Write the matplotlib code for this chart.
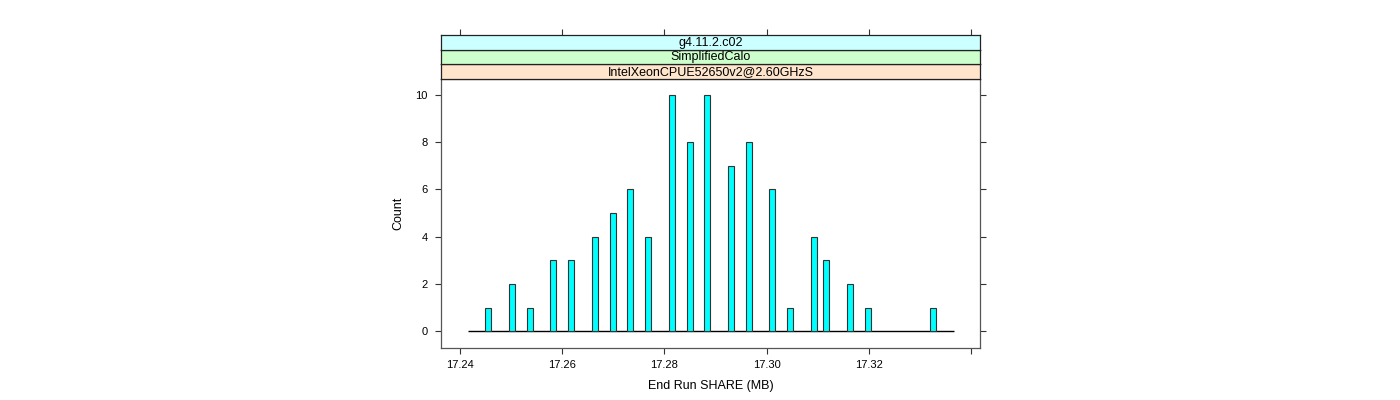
import matplotlib
matplotlib.use('Agg')
import matplotlib.pyplot as plt

plt.rcParams['font.family'] = ['Liberation Sans', 'DejaVu Sans']

# histogram bars (bin centres in MB, counts)
share_mb = [17.24542, 17.25013, 17.25360, 17.25817, 17.26175, 17.26636, 17.26983,
            17.27329, 17.27682, 17.28147, 17.28495, 17.28838, 17.29311, 17.29658,
            17.30116, 17.30469, 17.30934, 17.31164, 17.31635, 17.31980, 17.33256]
counts = [1, 2, 1, 3, 3, 4, 5, 6, 4, 10, 8, 10, 7, 8, 6, 1, 4, 3, 2, 1, 1]
bin_width = 0.00116
hist_range = [17.2414, 17.3367]

strip_labels = ['IntelXeonCPUE52650v2@2.60GHzS', 'SimplifiedCalo', 'g4.11.2.c02']
strip_colors = ['#ffe5cc', '#ccffcc', '#ccffff']

xticks = [17.24, 17.26, 17.28, 17.30, 17.32, 17.34]
xticklabels = ['17.24', '17.26', '17.28', '17.30', '17.32', '']
yticks = [0, 2, 4, 6, 8, 10]

W, H = 1400, 400
fig = plt.figure(figsize=(14, 4), dpi=100)

left, right, top, bottom = 440.5, 980.3, 78.5, 347.5
ax = fig.add_axes([left / W, 1 - bottom / H, (right - left) / W, (bottom - top) / H])

ax.hlines(0, hist_range[0], hist_range[1], color='black', lw=1.0, zorder=1)
ax.bar(share_mb, counts, width=bin_width, color='#00ffff', edgecolor='#333333',
       linewidth=0.8, zorder=2)

ax.set_xlim(17.2361, 17.3419)
ax.set_ylim(-0.68, 10.68)
ax.set_xticks(xticks)
ax.set_xticklabels(xticklabels)
ax.set_yticks(yticks)
ax.tick_params(direction='out', length=4.3, width=0.8, color='#333333',
               labelsize=8, right=True, top=False, pad=5)
for s in ax.spines.values():
    s.set_color('#555555')
    s.set_linewidth(0.9)
ax.set_xlabel('End Run SHARE (MB)', fontsize=9, labelpad=7)
ax.set_ylabel('Count', fontsize=9, labelpad=8)

# lattice style strips above the panel
strip_h = 14.5
for i, (lab, col) in enumerate(zip(strip_labels, strip_colors)):
    sb = top - strip_h * (i + 1)
    sax = fig.add_axes([left / W, 1 - (sb + strip_h) / H, (right - left) / W, strip_h / H])
    sax.set_facecolor(col)
    sax.set_xlim(ax.get_xlim())
    sax.set_ylim(0, 1)
    sax.text(0.5, 0.45, lab, transform=sax.transAxes, ha='center', va='center', fontsize=9)
    for s in sax.spines.values():
        s.set_color('#222222')
        s.set_linewidth(0.9)
    sax.set_yticks([])
    if i == len(strip_labels) - 1:
        sax.set_xticks(xticks)
        sax.tick_params(axis='x', direction='out', length=4.3, width=0.8, color='#333333',
                        bottom=False, top=True, labelbottom=False, labeltop=False)
    else:
        sax.set_xticks([])

fig.savefig('out.png', dpi=100)
